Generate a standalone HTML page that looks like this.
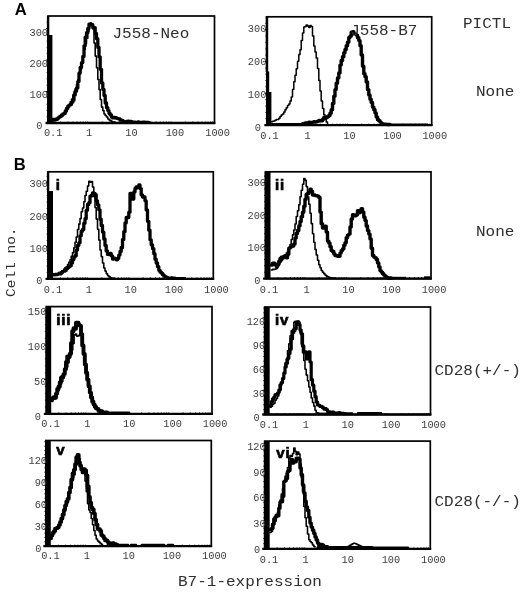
<!DOCTYPE html>
<html><head><meta charset="utf-8"><title>Figure</title>
<style>
html,body{margin:0;padding:0;background:#fff;}
svg{display:block}
.tk{font-family:"Liberation Mono", monospace;font-size:10.3px;fill:#3c3c3c}
.lb{font-family:"Liberation Mono", monospace;font-size:15px;fill:#2e2e2e}
.rm{font-family:"Liberation Sans", sans-serif;font-weight:bold;font-size:15px;fill:#000;letter-spacing:0.9px;stroke:#000;stroke-width:0.7px}
.AB{font-family:"Liberation Sans", sans-serif;font-weight:bold;font-size:16.6px;fill:#000}
</style></head><body>
<svg width="520" height="594" viewBox="0 0 520 594">
<rect width="520" height="594" fill="#fff"/>
<rect x="48" y="16" width="166.5" height="107" fill="none" stroke="#000" stroke-width="1.7"/>
<path d="M45.6 123H215.35" stroke="#000" stroke-width="2.3" fill="none"/>
<rect x="47.2" y="35" width="5.199999999999996" height="88" fill="#000"/>
<rect x="46.9" y="16" width="2.3999999999999986" height="20" fill="#000"/>
<text x="53.2" y="136.2" text-anchor="middle" class="tk">0.1</text>
<text x="89.2" y="136.2" text-anchor="middle" class="tk">1</text>
<text x="131.4" y="136.2" text-anchor="middle" class="tk">10</text>
<text x="174.9" y="136.2" text-anchor="middle" class="tk">100</text>
<text x="217.6" y="136.2" text-anchor="middle" class="tk">1000</text>
<path d="M60.5 123v-1.5 M67.9 123v-1.5 M73.1 123v-1.5 M77.1 123v-1.5 M80.4 123v-1.5 M83.2 123v-1.5 M85.6 123v-1.5 M87.7 123v-1.5 M102.2 123v-1.5 M109.5 123v-1.5 M114.7 123v-1.5 M118.7 123v-1.5 M122.0 123v-1.5 M124.8 123v-1.5 M127.2 123v-1.5 M129.3 123v-1.5 M143.8 123v-1.5 M151.1 123v-1.5 M156.3 123v-1.5 M160.3 123v-1.5 M163.6 123v-1.5 M166.4 123v-1.5 M168.8 123v-1.5 M171.0 123v-1.5 M185.4 123v-1.5 M192.7 123v-1.5 M197.9 123v-1.5 M202.0 123v-1.5 M205.3 123v-1.5 M208.1 123v-1.5 M210.5 123v-1.5 M212.6 123v-1.5" stroke="#000" stroke-width="0.8" fill="none"/>
<text x="42.5" y="129.0" text-anchor="end" class="tk">0</text>
<text x="48" y="98.1" text-anchor="end" class="tk">100</text>
<text x="48" y="67.1" text-anchor="end" class="tk">200</text>
<text x="48" y="36.2" text-anchor="end" class="tk">300</text>
<path d="M48 123.0h-2.2 M48 116.7h-1.4 M48 110.4h-1.4 M48 104.1h-1.4 M48 97.8h-1.4 M48 91.5h-2.2 M48 85.2h-1.4 M48 78.9h-1.4 M48 72.6h-1.4 M48 66.3h-1.4 M48 60.0h-2.2 M48 53.7h-1.4 M48 47.4h-1.4 M48 41.1h-1.4 M48 34.8h-1.4 M48 28.5h-2.2 M48 22.2h-1.4" stroke="#000" stroke-width="0.9" fill="none"/>
<path d="M51.5 121.1H52.8V120.9H54.0V120.9H55.2V119.9H56.5V119.4H57.8V119.0H59.0V117.7H60.2V117.1H61.5V116.2H62.8V114.8H64.0V112.6H65.2V109.8H66.5V108.2H67.8V107.2H69.0V104.5H70.2V101.8H71.5V99.0H72.8V95.0H74.0V92.1H75.2V88.5H76.5V84.4H77.8V79.8H79.0V74.2H80.2V69.5H81.5V63.2H82.8V55.8H84.0V49.5H85.2V43.5H86.5V38.2H87.8V31.5H89.0V26.3H90.2V22.9H91.5V24.7H92.8V28.8H94.0V43.0H95.2V56.1H96.5V67.7H97.8V79.5H99.0V89.6H100.2V99.5H101.5V107.1H102.8V110.6H104.0V113.9H105.2V115.5H106.5V116.9H107.8V118.9H109.0V119.9H110.2V120.6H111.5V121.4H112.8V121.9H114.0V122.0H115.2V122.3" fill="none" stroke="#000" stroke-width="1.55" stroke-linejoin="round" stroke-linecap="round"/>
<path d="M51.5 119.5H52.8V119.3H54.0V119.3H55.2V119.7H56.5V119.0H57.8V117.8H59.0V116.9H60.2V116.2H61.5V115.0H62.8V113.9H64.0V113.5H65.2V111.1H66.5V108.5H67.8V106.2H69.0V105.2H70.2V104.4H71.5V102.2H72.8V100.3H74.0V94.9H75.2V91.2H76.5V88.1H77.8V81.6H79.0V73.2H80.2V67.3H81.5V62.6H82.8V56.5H84.0V45.8H85.2V37.1H86.5V32.7H87.8V28.3H89.0V24.1H90.2V24.1H91.5V24.6H92.8V27.8H94.0V27.6H95.2V33.4H96.5V38.7H97.8V47.4H99.0V56.8H100.2V69.3H101.5V83.0H102.8V89.5H104.0V95.5H105.2V103.0H106.5V107.6H107.8V110.6H109.0V113.4H110.2V114.9H111.5V117.2H112.8V117.9H114.0V117.4H115.2V117.7H116.5V118.3H117.8V118.7H119.0V119.0H120.2V120.2H121.5V120.4H122.8V121.2H124.0V121.6H125.2V121.9H126.5V121.5H127.8V121.1H129.0V121.5H130.2V121.5H131.5V121.8H132.8V122.1H134.0V122.1H135.2V122.4H136.5V122.3H137.8V121.9H139.0V122.3H140.2V122.3H141.5V122.3H142.8V122.2H144.0V122.2H145.2V122.3H146.5V122.3H147.8V122.4H149.0V122.4" fill="none" stroke="#000" stroke-width="3.3" stroke-linejoin="round" stroke-linecap="round"/>
<rect x="266.8" y="16.8" width="164.89999999999998" height="108.3" fill="none" stroke="#000" stroke-width="1.7"/>
<path d="M264.40000000000003 125.1H432.55" stroke="#000" stroke-width="2.3" fill="none"/>
<rect x="266" y="92" width="5.399999999999977" height="33.099999999999994" fill="#000"/>
<rect x="266" y="71.5" width="3.1999999999999886" height="21.5" fill="#000"/>
<rect x="265.7" y="16.8" width="2.5" height="55.2" fill="#000"/>
<text x="269.5" y="139.2" text-anchor="middle" class="tk">0.1</text>
<text x="307.6" y="139.2" text-anchor="middle" class="tk">1</text>
<text x="349.4" y="139.2" text-anchor="middle" class="tk">10</text>
<text x="392.5" y="139.2" text-anchor="middle" class="tk">100</text>
<text x="434.8" y="139.2" text-anchor="middle" class="tk">1000</text>
<path d="M279.2 125.1v-1.5 M286.5 125.1v-1.5 M291.6 125.1v-1.5 M295.6 125.1v-1.5 M298.9 125.1v-1.5 M301.6 125.1v-1.5 M304.0 125.1v-1.5 M306.1 125.1v-1.5 M320.4 125.1v-1.5 M327.7 125.1v-1.5 M332.8 125.1v-1.5 M336.8 125.1v-1.5 M340.1 125.1v-1.5 M342.9 125.1v-1.5 M345.3 125.1v-1.5 M347.4 125.1v-1.5 M361.7 125.1v-1.5 M368.9 125.1v-1.5 M374.1 125.1v-1.5 M378.1 125.1v-1.5 M381.3 125.1v-1.5 M384.1 125.1v-1.5 M386.5 125.1v-1.5 M388.6 125.1v-1.5 M402.9 125.1v-1.5 M410.1 125.1v-1.5 M415.3 125.1v-1.5 M419.3 125.1v-1.5 M422.6 125.1v-1.5 M425.3 125.1v-1.5 M427.7 125.1v-1.5 M429.8 125.1v-1.5" stroke="#000" stroke-width="0.8" fill="none"/>
<text x="260.9" y="130.5" text-anchor="end" class="tk">0</text>
<text x="266.4" y="97.8" text-anchor="end" class="tk">100</text>
<text x="266.4" y="65.1" text-anchor="end" class="tk">200</text>
<text x="266.4" y="32.4" text-anchor="end" class="tk">300</text>
<path d="M266.8 125.1h-2.2 M266.8 118.7h-1.4 M266.8 112.4h-1.4 M266.8 106.0h-1.4 M266.8 99.7h-1.4 M266.8 93.3h-2.2 M266.8 86.9h-1.4 M266.8 80.6h-1.4 M266.8 74.2h-1.4 M266.8 67.9h-1.4 M266.8 61.5h-2.2 M266.8 55.1h-1.4 M266.8 48.8h-1.4 M266.8 42.4h-1.4 M266.8 36.1h-1.4 M266.8 29.7h-2.2 M266.8 23.3h-1.4 M266.8 17.0h-1.4" stroke="#000" stroke-width="0.9" fill="none"/>
<path d="M271.2 121.7H272.5V121.3H273.8V121.1H275.0V120.3H276.2V119.6H277.5V119.4H278.8V118.3H280.0V116.5H281.2V114.9H282.5V114.1H283.8V111.9H285.0V109.8H286.2V107.7H287.5V105.5H288.8V104.1H290.0V100.9H291.2V96.9H292.5V89.6H293.8V81.7H295.0V75.3H296.2V68.7H297.5V61.3H298.8V54.4H300.0V49.8H301.2V40.4H302.5V32.9H303.8V27.1H305.0V26.4H306.2V24.9H307.5V26.1H308.8V27.6H310.0V25.4H311.2V26.5H312.5V35.9H313.8V46.0H315.0V51.9H316.2V58.1H317.5V68.4H318.8V80.5H320.0V90.9H321.2V101.0H322.5V108.4H323.8V114.7H325.0V119.2H326.2V122.0H327.5V123.9" fill="none" stroke="#000" stroke-width="1.5" stroke-linejoin="round" stroke-linecap="round"/>
<path d="M302.5 123.8H303.8V123.7H305.0V122.9H306.2V122.9H307.5V123.0H308.8V122.2H310.0V122.5H311.2V122.7H312.5V122.1H313.8V121.8H315.0V122.1H316.2V121.7H317.5V121.2H318.8V120.5H320.0V120.9H321.2V120.8H322.5V119.2H323.8V117.5H325.0V118.3H326.2V117.4H327.5V116.4H328.8V115.5H330.0V113.2H331.2V109.7H332.5V103.4H333.8V96.2H335.0V89.6H336.2V83.2H337.5V77.9H338.8V72.9H340.0V65.1H341.2V60.4H342.5V56.7H343.8V52.7H345.0V49.5H346.2V45.7H347.5V42.3H348.8V37.4H350.0V36.2H351.2V32.2H352.5V31.8H353.8V33.9H355.0V34.1H356.2V35.1H357.5V37.8H358.8V40.6H360.0V45.7H361.2V54.9H362.5V66.3H363.8V73.8H365.0V76.8H366.2V82.0H367.5V89.6H368.8V94.9H370.0V99.2H371.2V102.4H372.5V107.1H373.8V109.7H375.0V113.0H376.2V116.9H377.5V119.7H378.8V120.8H380.0V122.1H381.2V123.6H382.5V124.0H383.8V124.2H385.0V124.2H386.2V124.4H387.5V124.5H388.8V124.5H390.0V124.5" fill="none" stroke="#000" stroke-width="3.4" stroke-linejoin="round" stroke-linecap="round"/>
<path d="M271 124.3H303" fill="none" stroke="#000" stroke-width="2.6" stroke-linejoin="round" stroke-linecap="butt"/>
<path d="M388 124.5H428" fill="none" stroke="#000" stroke-width="2.2" stroke-linejoin="round" stroke-linecap="butt"/>
<rect x="48" y="171.8" width="165.3" height="107.0" fill="none" stroke="#000" stroke-width="1.7"/>
<path d="M45.6 278.8H214.15" stroke="#000" stroke-width="2.3" fill="none"/>
<rect x="47.2" y="191" width="5.799999999999997" height="87.80000000000001" fill="#000"/>
<rect x="46.9" y="171.8" width="2.3999999999999986" height="20.19999999999999" fill="#000"/>
<text x="53.0" y="292.8" text-anchor="middle" class="tk">0.1</text>
<text x="88.9" y="292.8" text-anchor="middle" class="tk">1</text>
<text x="130.8" y="292.8" text-anchor="middle" class="tk">10</text>
<text x="174.0" y="292.8" text-anchor="middle" class="tk">100</text>
<text x="216.4" y="292.8" text-anchor="middle" class="tk">1000</text>
<path d="M60.4 278.8v-1.5 M67.7 278.8v-1.5 M72.9 278.8v-1.5 M76.9 278.8v-1.5 M80.2 278.8v-1.5 M82.9 278.8v-1.5 M85.3 278.8v-1.5 M87.4 278.8v-1.5 M101.8 278.8v-1.5 M109.0 278.8v-1.5 M114.2 278.8v-1.5 M118.2 278.8v-1.5 M121.5 278.8v-1.5 M124.2 278.8v-1.5 M126.6 278.8v-1.5 M128.8 278.8v-1.5 M143.1 278.8v-1.5 M150.4 278.8v-1.5 M155.5 278.8v-1.5 M159.5 278.8v-1.5 M162.8 278.8v-1.5 M165.6 278.8v-1.5 M168.0 278.8v-1.5 M170.1 278.8v-1.5 M184.4 278.8v-1.5 M191.7 278.8v-1.5 M196.9 278.8v-1.5 M200.9 278.8v-1.5 M204.1 278.8v-1.5 M206.9 278.8v-1.5 M209.3 278.8v-1.5 M211.4 278.8v-1.5" stroke="#000" stroke-width="0.8" fill="none"/>
<text x="42.5" y="283.7" text-anchor="end" class="tk">0</text>
<text x="48" y="251.6" text-anchor="end" class="tk">100</text>
<text x="48" y="219.5" text-anchor="end" class="tk">200</text>
<text x="48" y="187.4" text-anchor="end" class="tk">300</text>
<path d="M48 278.8h-2.2 M48 272.4h-1.4 M48 266.0h-1.4 M48 259.6h-1.4 M48 253.2h-1.4 M48 246.8h-2.2 M48 240.4h-1.4 M48 234.0h-1.4 M48 227.6h-1.4 M48 221.2h-1.4 M48 214.8h-2.2 M48 208.4h-1.4 M48 202.0h-1.4 M48 195.6h-1.4 M48 189.2h-1.4 M48 182.8h-2.2 M48 176.4h-1.4" stroke="#000" stroke-width="0.9" fill="none"/>
<path d="M51.2 275.1H52.5V274.8H53.8V274.6H55.0V274.6H56.2V274.8H57.5V273.8H58.8V272.6H60.0V272.7H61.2V271.6H62.5V270.7H63.8V269.0H65.0V267.5H66.2V266.7H67.5V264.6H68.8V262.3H70.0V259.7H71.2V256.2H72.5V252.6H73.8V247.8H75.0V242.3H76.2V236.9H77.5V229.5H78.8V224.1H80.0V218.6H81.2V211.8H82.5V208.0H83.8V201.8H85.0V195.4H86.2V191.3H87.5V185.9H88.8V181.3H90.0V182.3H91.2V181.6H92.5V187.0H93.8V196.6H95.0V207.5H96.2V219.1H97.5V229.2H98.8V240.1H100.0V250.0H101.2V256.6H102.5V262.9H103.8V268.0H105.0V271.1H106.2V273.6H107.5V275.6H108.8V276.5H110.0V277.4H111.2V278.1H112.5V278.2H113.8V278.2H115.0V278.2" fill="none" stroke="#000" stroke-width="1.55" stroke-linejoin="round" stroke-linecap="round"/>
<path d="M51.2 274.2H52.5V274.7H53.8V274.9H55.0V274.4H56.2V274.5H57.5V274.1H58.8V273.4H60.0V273.8H61.2V272.6H62.5V271.3H63.8V271.2H65.0V270.4H66.2V268.7H67.5V267.6H68.8V266.5H70.0V265.8H71.2V262.9H72.5V259.7H73.8V257.2H75.0V255.7H76.2V250.1H77.5V245.4H78.8V242.8H80.0V235.8H81.2V231.2H82.5V229.5H83.8V223.2H85.0V218.7H86.2V210.3H87.5V204.5H88.8V202.7H90.0V196.2H91.2V195.5H92.5V192.8H93.8V193.4H95.0V194.7H96.2V200.8H97.5V204.8H98.8V209.8H100.0V219.2H101.2V225.5H102.5V232.1H103.8V239.0H105.0V245.4H106.2V250.9H107.5V254.4H108.8V254.5H110.0V253.4H111.2V255.8H112.5V259.0H113.8V258.2H115.0V258.6H116.2V259.8H117.5V258.3H118.8V255.1H120.0V251.4H121.2V247.5H122.5V239.5H123.8V231.7H125.0V223.0H126.2V217.4H127.5V217.6H128.8V212.2H130.0V193.4H131.2V194.5H132.5V199.0H133.8V192.0H135.0V188.4H136.2V186.8H137.5V187.6H138.8V184.9H140.0V188.6H141.2V194.9H142.5V197.0H143.8V196.9H145.0V200.8H146.2V209.9H147.5V221.3H148.8V230.2H150.0V239.8H151.2V244.8H152.5V248.6H153.8V253.7H155.0V259.2H156.2V263.0H157.5V266.7H158.8V270.3H160.0V272.0H161.2V273.1H162.5V274.7H163.8V275.9H165.0V276.7H166.2V277.5H167.5V278.1H168.8V278.2H170.0V278.2H171.2V278.0H172.5V278.1H173.8V278.2H175.0V278.2" fill="none" stroke="#000" stroke-width="3.3" stroke-linejoin="round" stroke-linecap="round"/>
<path d="M174 278.2H186" fill="none" stroke="#000" stroke-width="2.4" stroke-linejoin="round" stroke-linecap="butt"/>
<text x="55.8" y="190" class="rm" style="font-size:15px">i</text>
<rect x="265.5" y="171.8" width="165.5" height="106.80000000000001" fill="none" stroke="#000" stroke-width="1.7"/>
<path d="M263.1 278.6H431.85" stroke="#000" stroke-width="2.3" fill="none"/>
<rect x="264.7" y="171.8" width="5.800000000000011" height="106.80000000000001" fill="#000"/>
<text x="269.0" y="293" text-anchor="middle" class="tk">0.1</text>
<text x="306.5" y="293" text-anchor="middle" class="tk">1</text>
<text x="348.4" y="293" text-anchor="middle" class="tk">10</text>
<text x="391.6" y="293" text-anchor="middle" class="tk">100</text>
<text x="434.1" y="293" text-anchor="middle" class="tk">1000</text>
<path d="M278.0 278.6v-1.5 M285.2 278.6v-1.5 M290.4 278.6v-1.5 M294.4 278.6v-1.5 M297.7 278.6v-1.5 M300.5 278.6v-1.5 M302.9 278.6v-1.5 M305.0 278.6v-1.5 M319.3 278.6v-1.5 M326.6 278.6v-1.5 M331.8 278.6v-1.5 M335.8 278.6v-1.5 M339.1 278.6v-1.5 M341.8 278.6v-1.5 M344.2 278.6v-1.5 M346.4 278.6v-1.5 M360.7 278.6v-1.5 M368.0 278.6v-1.5 M373.2 278.6v-1.5 M377.2 278.6v-1.5 M380.4 278.6v-1.5 M383.2 278.6v-1.5 M385.6 278.6v-1.5 M387.7 278.6v-1.5 M402.1 278.6v-1.5 M409.4 278.6v-1.5 M414.5 278.6v-1.5 M418.5 278.6v-1.5 M421.8 278.6v-1.5 M424.6 278.6v-1.5 M427.0 278.6v-1.5 M429.1 278.6v-1.5" stroke="#000" stroke-width="0.8" fill="none"/>
<text x="260.5" y="284.0" text-anchor="end" class="tk">0</text>
<text x="266" y="251.4" text-anchor="end" class="tk">100</text>
<text x="266" y="218.8" text-anchor="end" class="tk">200</text>
<text x="266" y="186.2" text-anchor="end" class="tk">300</text>
<path d="M265.5 278.6h-2.2 M265.5 272.2h-1.4 M265.5 265.8h-1.4 M265.5 259.4h-1.4 M265.5 253.0h-1.4 M265.5 246.6h-2.2 M265.5 240.2h-1.4 M265.5 233.8h-1.4 M265.5 227.4h-1.4 M265.5 221.0h-1.4 M265.5 214.6h-2.2 M265.5 208.2h-1.4 M265.5 201.8h-1.4 M265.5 195.4h-1.4 M265.5 189.0h-1.4 M265.5 182.6h-2.2 M265.5 176.2h-1.4" stroke="#000" stroke-width="0.9" fill="none"/>
<path d="M271.2 270.0H272.5V269.3H273.8V269.4H275.0V269.1H276.2V268.4H277.5V265.9H278.8V263.7H280.0V262.0H281.2V260.6H282.5V258.9H283.8V257.8H285.0V254.8H286.2V253.0H287.5V251.2H288.8V248.0H290.0V244.6H291.2V239.5H292.5V234.8H293.8V229.9H295.0V223.9H296.2V216.5H297.5V210.8H298.8V204.8H300.0V196.7H301.2V190.3H302.5V184.3H303.8V178.5H305.0V180.2H306.2V186.6H307.5V197.0H308.8V204.2H310.0V213.2H311.2V223.6H312.5V233.8H313.8V242.2H315.0V249.5H316.2V254.9H317.5V260.3H318.8V264.7H320.0V267.8H321.2V270.4H322.5V272.3H323.8V273.7H325.0V275.0H326.2V276.1H327.5V276.8H328.8V277.3H330.0V277.8H331.2V278.0H332.5V278.0H333.8V278.0H335.0V278.0" fill="none" stroke="#000" stroke-width="1.55" stroke-linejoin="round" stroke-linecap="round"/>
<path d="M271.2 265.0H272.5V263.2H273.8V263.3H275.0V264.8H276.2V266.5H277.5V264.6H278.8V261.3H280.0V258.5H281.2V257.2H282.5V257.0H283.8V256.1H285.0V256.0H286.2V257.8H287.5V254.2H288.8V248.2H290.0V247.2H291.2V246.1H292.5V246.1H293.8V244.0H295.0V238.1H296.2V233.5H297.5V230.5H298.8V225.9H300.0V221.4H301.2V216.7H302.5V212.3H303.8V206.3H305.0V199.2H306.2V194.3H307.5V193.4H308.8V192.1H310.0V189.3H311.2V191.4H312.5V195.1H313.8V194.9H315.0V195.6H316.2V195.7H317.5V196.1H318.8V197.4H320.0V212.1H321.2V223.8H322.5V228.0H323.8V227.4H325.0V226.1H326.2V232.1H327.5V241.1H328.8V243.1H330.0V246.7H331.2V250.6H332.5V251.5H333.8V253.9H335.0V255.5H336.2V255.7H337.5V256.3H338.8V256.3H340.0V253.1H341.2V250.6H342.5V248.9H343.8V245.2H345.0V242.8H346.2V237.8H347.5V235.1H348.8V234.1H350.0V226.9H351.2V219.0H352.5V214.6H353.8V215.1H355.0V215.8H356.2V214.7H357.5V210.7H358.8V212.7H360.0V211.6H361.2V208.6H362.5V212.1H363.8V217.2H365.0V220.6H366.2V226.0H367.5V230.6H368.8V234.1H370.0V238.9H371.2V248.3H372.5V255.4H373.8V257.1H375.0V257.7H376.2V259.5H377.5V262.9H378.8V266.9H380.0V270.6H381.2V272.1H382.5V273.7H383.8V275.1H385.0V276.3H386.2V277.2H387.5V277.9H388.8V278.0H390.0V278.0H391.2V278.0" fill="none" stroke="#000" stroke-width="3.4" stroke-linejoin="round" stroke-linecap="round"/>
<path d="M390 278.0H406" fill="none" stroke="#000" stroke-width="2.4" stroke-linejoin="round" stroke-linecap="butt"/>
<path d="M424 277.6H430" fill="none" stroke="#000" stroke-width="2.6" stroke-linejoin="round" stroke-linecap="butt"/>
<text x="275" y="189.6" class="rm" style="font-size:15px">ii</text>
<rect x="46.3" y="306.6" width="165.7" height="107.29999999999995" fill="none" stroke="#000" stroke-width="1.7"/>
<path d="M43.9 413.9H212.85" stroke="#000" stroke-width="2.3" fill="none"/>
<rect x="45.5" y="306.6" width="5.700000000000003" height="107.29999999999995" fill="#000"/>
<text x="50.6" y="427.4" text-anchor="middle" class="tk">0.1</text>
<text x="87.3" y="427.4" text-anchor="middle" class="tk">1</text>
<text x="129.3" y="427.4" text-anchor="middle" class="tk">10</text>
<text x="172.6" y="427.4" text-anchor="middle" class="tk">100</text>
<text x="215.1" y="427.4" text-anchor="middle" class="tk">1000</text>
<path d="M58.8 413.9v-1.5 M66.1 413.9v-1.5 M71.2 413.9v-1.5 M75.3 413.9v-1.5 M78.5 413.9v-1.5 M81.3 413.9v-1.5 M83.7 413.9v-1.5 M85.8 413.9v-1.5 M100.2 413.9v-1.5 M107.5 413.9v-1.5 M112.7 413.9v-1.5 M116.7 413.9v-1.5 M120.0 413.9v-1.5 M122.7 413.9v-1.5 M125.1 413.9v-1.5 M127.3 413.9v-1.5 M141.6 413.9v-1.5 M148.9 413.9v-1.5 M154.1 413.9v-1.5 M158.1 413.9v-1.5 M161.4 413.9v-1.5 M164.2 413.9v-1.5 M166.6 413.9v-1.5 M168.7 413.9v-1.5 M183.0 413.9v-1.5 M190.3 413.9v-1.5 M195.5 413.9v-1.5 M199.5 413.9v-1.5 M202.8 413.9v-1.5 M205.6 413.9v-1.5 M208.0 413.9v-1.5 M210.1 413.9v-1.5" stroke="#000" stroke-width="0.8" fill="none"/>
<text x="40.9" y="419.9" text-anchor="end" class="tk">0</text>
<text x="46.4" y="384.9" text-anchor="end" class="tk">50</text>
<text x="46.4" y="349.9" text-anchor="end" class="tk">100</text>
<text x="46.4" y="314.9" text-anchor="end" class="tk">150</text>
<path d="M46.3 413.9h-2.2 M46.3 407.0h-1.4 M46.3 400.2h-1.4 M46.3 393.3h-1.4 M46.3 386.4h-1.4 M46.3 379.5h-2.2 M46.3 372.7h-1.4 M46.3 365.8h-1.4 M46.3 358.9h-1.4 M46.3 352.1h-1.4 M46.3 345.2h-2.2 M46.3 338.3h-1.4 M46.3 331.5h-1.4 M46.3 324.6h-1.4 M46.3 317.7h-1.4 M46.3 310.8h-2.2" stroke="#000" stroke-width="0.9" fill="none"/>
<path d="M51.6 401.4H52.9V399.1H54.1V398.7H55.4V396.4H56.6V392.6H57.9V390.7H59.1V387.8H60.4V384.3H61.6V381.4H62.9V378.3H64.1V374.2H65.3V368.9H66.6V367.0H67.8V362.6H69.1V358.0H70.3V353.5H71.6V349.9H72.8V343.5H74.1V335.0H75.3V334.1H76.6V336.1H77.8V335.9H79.1V334.8H80.3V333.5H81.6V340.1H82.8V348.5H84.1V358.6H85.3V366.2H86.6V374.2H87.8V381.0H89.1V387.6H90.3V394.2H91.6V398.4H92.8V402.4H94.1V404.7H95.3V406.8H96.6V408.8H97.8V410.2H99.1V410.5H100.3V411.3H101.6V411.7H102.8V412.1H104.1V412.6H105.3V412.9H106.6V413.1H107.8V413.1" fill="none" stroke="#000" stroke-width="1.55" stroke-linejoin="round" stroke-linecap="round"/>
<path d="M51.0 399.2H52.2V398.1H53.5V397.3H54.8V397.7H56.0V393.6H57.2V388.9H58.5V386.4H59.8V382.1H61.0V377.6H62.2V376.4H63.5V374.1H64.8V369.1H66.0V361.9H67.2V356.5H68.5V356.5H69.8V353.7H71.0V343.0H72.2V331.2H73.5V328.3H74.8V328.8H76.0V322.7H77.2V322.6H78.5V324.9H79.8V325.8H81.0V334.2H82.2V345.5H83.5V353.9H84.8V364.4H86.0V372.7H87.2V379.8H88.5V386.3H89.8V392.6H91.0V397.5H92.2V401.7H93.5V404.6H94.8V406.7H96.0V408.4H97.2V408.9H98.5V410.9H99.8V411.0H101.0V411.3H102.2V412.5H103.5V412.6H104.8V412.5H106.0V412.4H107.2V413.0" fill="none" stroke="#000" stroke-width="3.9" stroke-linejoin="round" stroke-linecap="round"/>
<path d="M100 412.9H129" fill="none" stroke="#000" stroke-width="2.8" stroke-linejoin="round" stroke-linecap="round"/>
<text x="56.2" y="324.6" class="rm" style="font-size:15px">iii</text>
<rect x="264.7" y="307" width="165.8" height="107.5" fill="none" stroke="#000" stroke-width="1.7"/>
<path d="M262.3 414.5H431.35" stroke="#000" stroke-width="2.3" fill="none"/>
<rect x="263.9" y="307" width="5.800000000000011" height="107.5" fill="#000"/>
<text x="269.0" y="428" text-anchor="middle" class="tk">0.1</text>
<text x="305.8" y="428" text-anchor="middle" class="tk">1</text>
<text x="347.8" y="428" text-anchor="middle" class="tk">10</text>
<text x="391.1" y="428" text-anchor="middle" class="tk">100</text>
<text x="433.6" y="428" text-anchor="middle" class="tk">1000</text>
<path d="M277.2 414.5v-1.5 M284.5 414.5v-1.5 M289.7 414.5v-1.5 M293.7 414.5v-1.5 M297.0 414.5v-1.5 M299.7 414.5v-1.5 M302.1 414.5v-1.5 M304.3 414.5v-1.5 M318.6 414.5v-1.5 M325.9 414.5v-1.5 M331.1 414.5v-1.5 M335.1 414.5v-1.5 M338.4 414.5v-1.5 M341.2 414.5v-1.5 M343.6 414.5v-1.5 M345.7 414.5v-1.5 M360.1 414.5v-1.5 M367.4 414.5v-1.5 M372.6 414.5v-1.5 M376.6 414.5v-1.5 M379.9 414.5v-1.5 M382.6 414.5v-1.5 M385.0 414.5v-1.5 M387.2 414.5v-1.5 M401.5 414.5v-1.5 M408.8 414.5v-1.5 M414.0 414.5v-1.5 M418.0 414.5v-1.5 M421.3 414.5v-1.5 M424.1 414.5v-1.5 M426.5 414.5v-1.5 M428.6 414.5v-1.5" stroke="#000" stroke-width="0.8" fill="none"/>
<text x="259.7" y="421.0" text-anchor="end" class="tk">0</text>
<text x="265.2" y="396.9" text-anchor="end" class="tk">30</text>
<text x="265.2" y="372.8" text-anchor="end" class="tk">60</text>
<text x="265.2" y="348.7" text-anchor="end" class="tk">90</text>
<text x="265.2" y="324.6" text-anchor="end" class="tk">120</text>
<path d="M264.7 414.5h-2.2 M264.7 409.7h-1.4 M264.7 404.8h-1.4 M264.7 400.0h-1.4 M264.7 395.1h-1.4 M264.7 390.3h-2.2 M264.7 385.4h-1.4 M264.7 380.6h-1.4 M264.7 375.8h-1.4 M264.7 370.9h-1.4 M264.7 366.1h-2.2 M264.7 361.2h-1.4 M264.7 356.4h-1.4 M264.7 351.6h-1.4 M264.7 346.7h-1.4 M264.7 341.9h-2.2 M264.7 337.0h-1.4 M264.7 332.2h-1.4 M264.7 327.3h-1.4 M264.7 322.5h-1.4 M264.7 317.7h-2.2 M264.7 312.8h-1.4 M264.7 308.0h-1.4" stroke="#000" stroke-width="0.9" fill="none"/>
<path d="M270.0 407.2H271.2V406.2H272.5V404.3H273.8V403.2H275.0V400.2H276.2V398.4H277.5V395.9H278.8V392.3H280.0V389.8H281.2V382.4H282.5V377.8H283.8V372.1H285.0V363.0H286.2V359.1H287.5V350.8H288.8V343.7H290.0V335.8H291.2V330.8H292.5V329.3H293.8V322.2H295.0V321.3H296.2V321.3H297.5V321.3H298.8V322.5H300.0V332.8H301.2V344.1H302.5V352.7H303.8V360.5H305.0V369.2H306.2V375.1H307.5V380.8H308.8V386.9H310.0V392.3H311.2V397.9H312.5V402.5H313.8V406.1H315.0V410.2H316.2V412.7H317.5V413.1H318.8V413.7H320.0V413.9" fill="none" stroke="#000" stroke-width="1.55" stroke-linejoin="round" stroke-linecap="round"/>
<path d="M270.0 405.8H271.2V401.6H272.5V398.8H273.8V397.0H275.0V394.7H276.2V394.3H277.5V393.0H278.8V390.0H280.0V384.8H281.2V382.6H282.5V378.6H283.8V373.2H285.0V366.9H286.2V363.2H287.5V358.5H288.8V353.5H290.0V349.3H291.2V338.8H292.5V332.5H293.8V330.5H295.0V328.7H296.2V322.5H297.5V321.8H298.8V324.6H300.0V330.1H301.2V333.8H302.5V345.9H303.8V352.2H305.0V351.9H306.2V358.9H307.5V358.3H308.8V351.9H310.0V362.0H311.2V379.7H312.5V385.1H313.8V391.2H315.0V396.7H316.2V402.0H317.5V404.9H318.8V405.3H320.0V406.4H321.2V406.5H322.5V407.7H323.8V409.1H325.0V408.6H326.2V409.7H327.5V411.5H328.8V411.9H330.0V412.1H331.2V412.1H332.5V412.2H333.8V412.8H335.0V413.2H336.2V413.4H337.5V412.9H338.8V412.5H340.0V413.0H341.2V413.3H342.5V413.3H343.8V413.6H345.0V413.7" fill="none" stroke="#000" stroke-width="3.2" stroke-linejoin="round" stroke-linecap="round"/>
<path d="M316 413.7H340" fill="none" stroke="#000" stroke-width="2.2" stroke-linejoin="round" stroke-linecap="butt"/>
<path d="M340 413.5H352M358 413.3H381" fill="none" stroke="#000" stroke-width="2.4" stroke-linejoin="round" stroke-linecap="round"/>
<text x="275" y="324.6" class="rm" style="font-size:15px">iv</text>
<rect x="45.8" y="440.5" width="165.5" height="105.60000000000002" fill="none" stroke="#000" stroke-width="1.7"/>
<path d="M43.4 546.1H212.15" stroke="#000" stroke-width="2.3" fill="none"/>
<rect x="45" y="440.5" width="5.799999999999997" height="105.60000000000002" fill="#000"/>
<text x="50.4" y="559.4" text-anchor="middle" class="tk">0.1</text>
<text x="86.8" y="559.4" text-anchor="middle" class="tk">1</text>
<text x="128.8" y="559.4" text-anchor="middle" class="tk">10</text>
<text x="171.9" y="559.4" text-anchor="middle" class="tk">100</text>
<text x="214.4" y="559.4" text-anchor="middle" class="tk">1000</text>
<path d="M58.3 546.1v-1.5 M65.5 546.1v-1.5 M70.7 546.1v-1.5 M74.7 546.1v-1.5 M78.0 546.1v-1.5 M80.8 546.1v-1.5 M83.2 546.1v-1.5 M85.3 546.1v-1.5 M99.6 546.1v-1.5 M106.9 546.1v-1.5 M112.1 546.1v-1.5 M116.1 546.1v-1.5 M119.4 546.1v-1.5 M122.1 546.1v-1.5 M124.5 546.1v-1.5 M126.7 546.1v-1.5 M141.0 546.1v-1.5 M148.3 546.1v-1.5 M153.5 546.1v-1.5 M157.5 546.1v-1.5 M160.7 546.1v-1.5 M163.5 546.1v-1.5 M165.9 546.1v-1.5 M168.0 546.1v-1.5 M182.4 546.1v-1.5 M189.7 546.1v-1.5 M194.8 546.1v-1.5 M198.8 546.1v-1.5 M202.1 546.1v-1.5 M204.9 546.1v-1.5 M207.3 546.1v-1.5 M209.4 546.1v-1.5" stroke="#000" stroke-width="0.8" fill="none"/>
<text x="41.5" y="551.9" text-anchor="end" class="tk">0</text>
<text x="47" y="529.9" text-anchor="end" class="tk">30</text>
<text x="47" y="507.9" text-anchor="end" class="tk">60</text>
<text x="47" y="485.9" text-anchor="end" class="tk">90</text>
<text x="47" y="463.9" text-anchor="end" class="tk">120</text>
<path d="M45.8 546.1h-2.2 M45.8 541.8h-1.4 M45.8 537.4h-1.4 M45.8 533.1h-1.4 M45.8 528.7h-1.4 M45.8 524.4h-2.2 M45.8 520.0h-1.4 M45.8 515.6h-1.4 M45.8 511.3h-1.4 M45.8 507.0h-1.4 M45.8 502.6h-2.2 M45.8 498.2h-1.4 M45.8 493.9h-1.4 M45.8 489.6h-1.4 M45.8 485.2h-1.4 M45.8 480.9h-2.2 M45.8 476.5h-1.4 M45.8 472.2h-1.4 M45.8 467.8h-1.4 M45.8 463.5h-1.4 M45.8 459.1h-2.2 M45.8 454.8h-1.4 M45.8 450.4h-1.4 M45.8 446.1h-1.4 M45.8 441.7h-1.4" stroke="#000" stroke-width="0.9" fill="none"/>
<path d="M50.0 537.9H51.2V535.7H52.5V533.8H53.8V531.6H55.0V531.1H56.2V528.4H57.5V526.8H58.8V524.6H60.0V522.2H61.2V518.0H62.5V514.4H63.8V511.6H65.0V509.3H66.2V504.3H67.5V498.9H68.8V493.3H70.0V487.1H71.2V481.6H72.5V477.6H73.8V475.0H75.0V469.2H76.2V457.5H77.5V454.3H78.8V458.5H80.0V465.3H81.2V469.5H82.5V468.6H83.8V471.8H85.0V481.1H86.2V491.6H87.5V503.6H88.8V510.0H90.0V512.4H91.2V518.4H92.5V524.8H93.8V530.5H95.0V535.3H96.2V539.0H97.5V540.9H98.8V542.1H100.0V543.2H101.2V544.3H102.5V544.9" fill="none" stroke="#000" stroke-width="1.55" stroke-linejoin="round" stroke-linecap="round"/>
<path d="M50.0 538.3H51.2V535.3H52.5V532.9H53.8V531.2H55.0V528.6H56.2V528.2H57.5V527.3H58.8V525.1H60.0V522.1H61.2V518.6H62.5V514.7H63.8V510.1H65.0V505.5H66.2V501.7H67.5V498.8H68.8V492.6H70.0V487.4H71.2V479.6H72.5V473.3H73.8V469.8H75.0V464.2H76.2V457.1H77.5V454.9H78.8V462.4H80.0V465.7H81.2V469.5H82.5V472.5H83.8V469.1H85.0V470.4H86.2V475.3H87.5V486.4H88.8V496.9H90.0V502.5H91.2V507.7H92.5V509.4H93.8V513.6H95.0V519.7H96.2V524.6H97.5V529.0H98.8V529.0H100.0V530.9H101.2V535.1H102.5V536.1H103.8V538.3H105.0V540.5H106.2V540.4H107.5V542.0H108.8V543.2H110.0V543.7H111.2V543.3H112.5V543.1H113.8V544.0H115.0V544.1H116.2V544.9H117.5V545.3" fill="none" stroke="#000" stroke-width="3.7" stroke-linejoin="round" stroke-linecap="round"/>
<path d="M108 545.1H128M131 545.1H136M142 545.1H164M168 545.1H173" fill="none" stroke="#000" stroke-width="2.6" stroke-linejoin="round" stroke-linecap="round"/>
<text x="56.3" y="454.6" class="rm" style="font-size:15px">v</text>
<rect x="264.7" y="441.1" width="165.60000000000002" height="107.69999999999993" fill="none" stroke="#000" stroke-width="1.7"/>
<path d="M262.3 548.8H431.15000000000003" stroke="#000" stroke-width="2.3" fill="none"/>
<rect x="263.9" y="441.1" width="5.800000000000011" height="107.69999999999993" fill="#000"/>
<text x="269.0" y="562.8" text-anchor="middle" class="tk">0.1</text>
<text x="305.7" y="562.8" text-anchor="middle" class="tk">1</text>
<text x="347.7" y="562.8" text-anchor="middle" class="tk">10</text>
<text x="390.9" y="562.8" text-anchor="middle" class="tk">100</text>
<text x="433.4" y="562.8" text-anchor="middle" class="tk">1000</text>
<path d="M277.2 548.8v-1.5 M284.5 548.8v-1.5 M289.6 548.8v-1.5 M293.6 548.8v-1.5 M296.9 548.8v-1.5 M299.7 548.8v-1.5 M302.1 548.8v-1.5 M304.2 548.8v-1.5 M318.6 548.8v-1.5 M325.9 548.8v-1.5 M331.0 548.8v-1.5 M335.0 548.8v-1.5 M338.3 548.8v-1.5 M341.1 548.8v-1.5 M343.5 548.8v-1.5 M345.6 548.8v-1.5 M360.0 548.8v-1.5 M367.3 548.8v-1.5 M372.4 548.8v-1.5 M376.4 548.8v-1.5 M379.7 548.8v-1.5 M382.5 548.8v-1.5 M384.9 548.8v-1.5 M387.0 548.8v-1.5 M401.4 548.8v-1.5 M408.7 548.8v-1.5 M413.8 548.8v-1.5 M417.8 548.8v-1.5 M421.1 548.8v-1.5 M423.9 548.8v-1.5 M426.3 548.8v-1.5 M428.4 548.8v-1.5" stroke="#000" stroke-width="0.8" fill="none"/>
<text x="260.2" y="553.0" text-anchor="end" class="tk">0</text>
<text x="265.7" y="527.2" text-anchor="end" class="tk">30</text>
<text x="265.7" y="501.4" text-anchor="end" class="tk">60</text>
<text x="265.7" y="475.6" text-anchor="end" class="tk">90</text>
<text x="265.7" y="449.8" text-anchor="end" class="tk">120</text>
<path d="M264.7 548.8h-2.2 M264.7 543.6h-1.4 M264.7 538.5h-1.4 M264.7 533.3h-1.4 M264.7 528.2h-1.4 M264.7 523.0h-2.2 M264.7 517.8h-1.4 M264.7 512.7h-1.4 M264.7 507.5h-1.4 M264.7 502.4h-1.4 M264.7 497.2h-2.2 M264.7 492.0h-1.4 M264.7 486.9h-1.4 M264.7 481.7h-1.4 M264.7 476.6h-1.4 M264.7 471.4h-2.2 M264.7 466.2h-1.4 M264.7 461.1h-1.4 M264.7 455.9h-1.4 M264.7 450.8h-1.4 M264.7 445.6h-2.2" stroke="#000" stroke-width="0.9" fill="none"/>
<path d="M270.0 532.4H271.2V531.4H272.5V528.7H273.8V524.1H275.0V521.3H276.2V517.3H277.5V512.1H278.8V505.1H280.0V500.0H281.2V494.1H282.5V488.6H283.8V481.5H285.0V476.3H286.2V472.9H287.5V467.4H288.8V458.2H290.0V455.5H291.2V456.2H292.5V453.4H293.8V448.1H295.0V451.3H296.2V454.7H297.5V452.1H298.8V454.1H300.0V464.1H301.2V477.2H302.5V491.5H303.8V506.4H305.0V517.8H306.2V526.3H307.5V533.9H308.8V539.7H310.0V541.4H311.2V542.8H312.5V544.9H313.8V546.5H315.0V547.1" fill="none" stroke="#000" stroke-width="1.55" stroke-linejoin="round" stroke-linecap="round"/>
<path d="M270.0 529.6H271.2V528.7H272.5V524.3H273.8V519.0H275.0V517.3H276.2V515.2H277.5V515.7H278.8V508.2H280.0V502.1H281.2V501.8H282.5V496.3H283.8V481.6H285.0V480.7H286.2V478.6H287.5V471.4H288.8V470.6H290.0V462.2H291.2V459.5H292.5V463.0H293.8V461.3H295.0V461.8H296.2V458.1H297.5V458.1H298.8V459.1H300.0V468.0H301.2V474.7H302.5V485.0H303.8V493.0H305.0V501.3H306.2V506.9H307.5V510.5H308.8V517.3H310.0V523.1H311.2V527.1H312.5V530.2H313.8V533.4H315.0V536.9H316.2V539.9H317.5V543.1H318.8V545.6H320.0V546.3H321.2V544.5H322.5V545.2H323.8V546.8H325.0V546.7H326.2V546.7H327.5V546.7" fill="none" stroke="#000" stroke-width="3.4" stroke-linejoin="round" stroke-linecap="round"/>
<path d="M346.0 548.0H347.2V546.8H348.5V545.9H349.8V545.3H351.0V544.6H352.2V543.8H353.5V543.3H354.8V543.4H356.0V544.0H357.2V544.8H358.5V545.2H359.8V545.8H361.0V546.6H362.2V547.5" fill="none" stroke="#000" stroke-width="1.55" stroke-linejoin="round" stroke-linecap="round"/>
<path d="M318 547.5999999999999H372" fill="none" stroke="#000" stroke-width="3.0" stroke-linejoin="round" stroke-linecap="round"/>
<path d="M372 547.8H408" fill="none" stroke="#000" stroke-width="2.4" stroke-linejoin="round" stroke-linecap="round"/>
<text x="276.2" y="457.6" class="rm" style="font-size:15px">vi</text>
<text x="14.8" y="14.5" class="AB">A</text>
<text x="13.8" y="170" class="AB">B</text>
<text transform="translate(112.5,37.6) scale(1,0.87)" class="lb" style="font-size:16px">J558-Neo</text>
<text transform="translate(350.2,34.8) scale(1,0.87)" class="lb" style="font-size:16px">J558-B7</text>
<text transform="translate(463,27.5) scale(1,0.87)" class="lb" style="font-size:16px">PICTL</text>
<text transform="translate(476,96) scale(1,0.87)" class="lb" style="font-size:16px">None</text>
<text transform="translate(476,235.5) scale(1,0.87)" class="lb" style="font-size:16px">None</text>
<text transform="translate(434.5,374.8) scale(1,0.87)" class="lb" style="font-size:16px">CD28(+/-)</text>
<text transform="translate(434.5,506) scale(1,0.87)" class="lb" style="font-size:16px">CD28(-/-)</text>
<text transform="translate(178,585.5) scale(1,0.87)" class="lb" style="font-size:16px">B7-1-expression</text>
<text transform="translate(15,297) rotate(-90) scale(1,0.87)" class="lb" style="font-size:14.5px">Cell no.</text>
</svg>
</body></html>
